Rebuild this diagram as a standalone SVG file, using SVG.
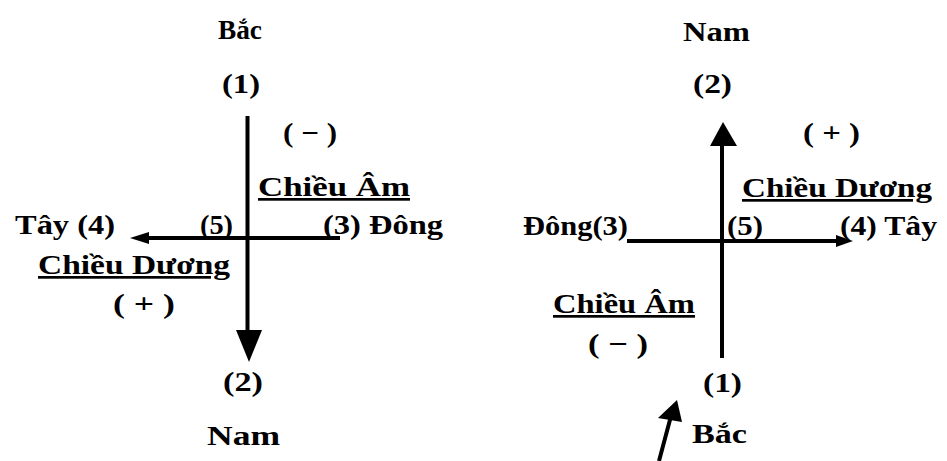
<svg xmlns="http://www.w3.org/2000/svg" width="947" height="461" viewBox="0 0 947 461">
<style>
text{font-family:"Liberation Serif","Times New Roman",serif;font-weight:bold;font-size:27px;fill:#000}
.u{text-decoration:underline}
.ln{stroke:#000;stroke-width:4;fill:none}
.hd{fill:#000;stroke:none}
</style>
<rect width="947" height="461" fill="#fff"/>
<g id="connectors">
<line class="ln" x1="247.5" y1="116" x2="247.5" y2="334"/>
<polygon class="hd" points="236,330 262,330 249,362"/>
<line class="ln" x1="340" y1="238" x2="145" y2="238"/>
<polygon class="hd" points="130,238 149,232 149,244"/>
<line class="ln" x1="722" y1="358" x2="722" y2="142"/>
<polygon class="hd" points="710,146 737,146 723,122"/>
<line class="ln" x1="627" y1="241" x2="840" y2="241"/>
<polygon class="hd" points="853,241 836,235 836,247"/>
<line class="ln" x1="659" y1="461" x2="671" y2="416"/>
<polygon class="hd" points="677,400 658,418 682,422"/>
</g>
<g id="left-bac"><text x="218" y="39" textLength="44" lengthAdjust="spacingAndGlyphs">Bắc</text></g>
<g id="left-1"><text x="222" y="93" textLength="38" lengthAdjust="spacingAndGlyphs">(1)</text></g>
<g id="left-minus"><text x="283" y="142" textLength="54" lengthAdjust="spacingAndGlyphs">( − )</text></g>
<g id="left-chieu-am"><text class="u" x="258" y="196" textLength="152" lengthAdjust="spacingAndGlyphs">Chiều Âm</text></g>
<g id="left-tay"><text x="15" y="234" textLength="100" lengthAdjust="spacingAndGlyphs">Tây (4)</text></g>
<g id="left-5"><text x="200" y="234" textLength="33" lengthAdjust="spacingAndGlyphs">(5)</text></g>
<g id="left-dong"><text x="323" y="234" textLength="120" lengthAdjust="spacingAndGlyphs">(3) Đông</text></g>
<g id="left-chieu-duong"><text class="u" x="38" y="274" textLength="192" lengthAdjust="spacingAndGlyphs">Chiều Dương</text></g>
<g id="left-plus"><text x="113" y="313" textLength="62" lengthAdjust="spacingAndGlyphs">( + )</text></g>
<g id="left-2"><text x="223" y="391" textLength="40" lengthAdjust="spacingAndGlyphs">(2)</text></g>
<g id="left-nam"><text x="207" y="445" textLength="73" lengthAdjust="spacingAndGlyphs">Nam</text></g>
<g id="right-nam"><text x="683" y="41" textLength="67" lengthAdjust="spacingAndGlyphs">Nam</text></g>
<g id="right-2"><text x="693" y="93" textLength="39" lengthAdjust="spacingAndGlyphs">(2)</text></g>
<g id="right-plus"><text x="803" y="142" textLength="57" lengthAdjust="spacingAndGlyphs">( + )</text></g>
<g id="right-chieu-duong"><text class="u" x="742" y="197" textLength="190" lengthAdjust="spacingAndGlyphs">Chiều Dương</text></g>
<g id="right-dong"><text x="523" y="235" textLength="105" lengthAdjust="spacingAndGlyphs">Đông(3)</text></g>
<g id="right-5"><text x="727" y="235" textLength="36" lengthAdjust="spacingAndGlyphs">(5)</text></g>
<g id="right-tay"><text x="840" y="235" textLength="97" lengthAdjust="spacingAndGlyphs">(4) Tây</text></g>
<g id="right-chieu-am"><text class="u" x="553" y="313" textLength="142" lengthAdjust="spacingAndGlyphs">Chiều Âm</text></g>
<g id="right-minus"><text x="588" y="353" textLength="60" lengthAdjust="spacingAndGlyphs">( − )</text></g>
<g id="right-1"><text x="703" y="392" textLength="39" lengthAdjust="spacingAndGlyphs">(1)</text></g>
<g id="right-bac"><text x="692" y="443" textLength="55" lengthAdjust="spacingAndGlyphs">Bắc</text></g>
</svg>
